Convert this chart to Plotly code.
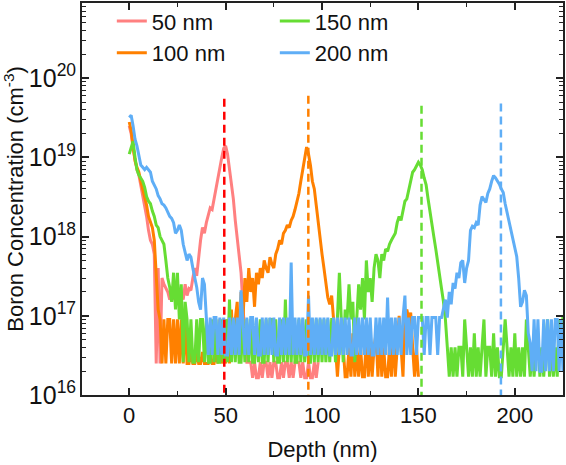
import plotly.graph_objects as go

# Depth sampling grid (nm), 1 nm steps
DEPTH_NM = list(range(0, 226))

# Boron concentration (cm^-3), one value per nm
CONC_50NM = [
    2.5e19, 2.0e19, 1.3e19, 9e18, 7e18, 6e18, 4.5e18, 3.5e18, 2.5e18, 1.8e18,
    1.2e18, 9e17, 8e17, 6e17, 2.5e16, 4e17, 2.5e16, 3e17, 2.5e17, 2.2e17,
    2e17, 1.6e17, 1.8e17, 1.6e17, 2.2e17, 1.7e17, 1.8e17, 2e17, 1.6e17, 2.5e17,
    1.8e17, 2.2e17, 2.1e17, 3e17, 4e17, 3.2e17, 6e17, 9e17, 1.3e18, 1.1e18,
    1.5e18, 1.8e18, 2.3e18, 2.2e18, 3e18, 4e18, 5.5e18, 8e18, 1.0e19, 1.3e19,
    1.4e19, 1.1e19, 7e18, 4.5e18, 3e18, 1.6e18, 9e17, 6e17, 3.5e17, 1.3e17,
    5e16, 2.6e16, 2.6e16, 2.6e16, 1.65e16, 2.6e16, 1.65e16, 1.65e16, 2.6e16, 1.65e16,
    2.6e16, 2.6e16, 1.65e16, 2.6e16, 1.65e16, 2.6e16, 2.6e16, 1.65e16, 1.65e16, 2.6e16,
    1.65e16, 2.6e16, 2.6e16, 1.65e16, 2.6e16, 1.65e16, 2.6e16, 2.6e16, 2.6e16, 1.65e16,
    2.6e16, 1.65e16, 1.65e16, 2.6e16, 1.65e16, 1.65e16, 2.6e16, 1.65e16, 2.6e16,
]

CONC_100NM = [
    2.8e19, 2.2e19, 1.4e19, 9e18, 7.5e18, 6.5e18, 5e18, 4e18, 3e18, 2.5e18,
    1.8e18, 1.5e18, 1.3e18, 9e17, 3e17, 1.2e17, 9e16, 2.5e16, 9e16, 2.5e16,
    9e16, 9e16, 2.5e16, 9e16, 2.5e16, 9e16, 2.5e16, 9e16, 2.5e16, 9e16,
    2.5e16, 2.5e16, 3.5e16, 2.5e16, 2.5e16, 3.5e16, 2.5e16, 2.5e16, 3.5e16, 2.5e16,
    2.5e16, 2.5e16, 3.5e16, 2.5e16, 2.5e16, 3.5e16, 2.5e16, 9e16, 2.5e16, 3.5e16,
    2.5e16, 9e16, 2.5e16, 1.2e17, 3.5e16, 9e16, 1.5e17, 3.5e16, 2e17, 9e16,
    3e17, 1.5e17, 4e17, 2e17, 3e17, 1.3e17, 3.5e17, 2.5e17, 4e17, 3e17,
    5e17, 4e17, 3.5e17, 5.5e17, 4.5e17, 4e17, 6e17, 7e17, 9e17, 8e17,
    1.1e18, 1.2e18, 1.4e18, 1.3e18, 1.6e18, 1.8e18, 2.2e18, 2.8e18, 3.5e18, 5e18,
    7e18, 1.1e19, 1.35e19, 1.1e19, 8e18, 5e18, 4e18, 2.5e18, 1.5e18, 1e18,
    6e17, 4e17, 2.5e17, 1.7e17, 1.4e17, 1.8e17, 9e16, 4e16, 1.7e16, 4e16,
    9e16, 4e16, 1.7e16, 1.7e16, 4e16, 1.7e16, 6e16, 1.7e16, 4e16, 1.7e16,
    4e16, 1.7e16, 1.7e16, 6e16, 1.7e16, 4e16, 1.7e16, 4e16, 6e16, 1.7e16,
    6e16, 1.7e16, 4e16, 1.7e16, 1.7e16, 4e16, 1.7e16, 6e16, 1.7e16, 4e16,
    1e17, 4e16, 1.7e16, 1e17, 1.2e17, 9e16, 1.1e17, 4e16, 1.7e16, 4e16,
    1.7e16,
]

CONC_150NM = [
    1.1e19, 1.3e19, 1.6e19, 1.0e19, 7e18, 6e18, 5.5e18, 5e18, 4.2e18, 3.2e18,
    2.8e18, 2.6e18, 2.1e18, 1.8e18, 1.4e18, 1.3e18, 1e18, 9e17, 8e17, 5e17,
    3e17, 2.3e17, 1.5e17, 3.5e17, 1.2e17, 3.5e17, 9e16, 2.5e17, 2.6e16, 1.5e17,
    9e16, 2.6e16, 9e16, 2.6e16, 2.6e16, 9e16, 2.6e16, 9e16, 9e16, 2.6e16,
    9e16, 2.6e16, 2.6e16, 9e16, 2.6e16, 9e16, 2.6e16, 2.6e16, 9e16, 2.6e16,
    9e16, 2.6e16, 1.6e17, 2.6e16, 9e16, 2.6e16, 9e16, 2.6e16, 2.6e16, 9e16,
    2.6e16, 9e16, 2.6e16, 9e16, 2.6e16, 2.6e16, 9e16, 2.6e16, 9e16, 2.6e16,
    2.6e16, 9e16, 2.6e16, 9e16, 9e16, 2.6e16, 9e16, 2.6e16, 2.6e16, 9e16,
    2.6e16, 1.6e17, 2.6e16, 9e16, 2.6e16, 9e16, 2.6e16, 2.6e16, 9e16, 2.6e16,
    9e16, 2.6e16, 9e16, 2.6e16, 2.6e16, 9e16, 2.6e16, 9e16, 2.6e16, 9e16,
    2.6e16, 9e16, 2.6e16, 9e16, 2.6e16, 9e16, 9e16, 2.6e16, 9e16, 3.5e17,
    9e16, 2.6e16, 1.2e17, 9e16, 2.5e17, 9e16, 1.5e17, 2.6e16, 9e16, 2.5e17,
    1.2e17, 3e17, 9e16, 5e17, 2e17, 3e17, 1.5e17, 4e17, 6e17, 5e17,
    3e17, 6e17, 5e17, 7e17, 6.5e17, 8e17, 9e17, 1e18, 1.1e18, 1.5e18,
    1.8e18, 1.6e18, 2.2e18, 2.8e18, 3e18, 4e18, 5e18, 6.5e18, 7e18, 8e18,
    8.7e18, 8e18, 7e18, 5.5e18, 4.5e18, 3e18, 2e18, 1.4e18, 1e18, 7e17,
    4.5e17, 3e17, 2.2e17, 1.5e17, 9e16, 4e16, 1.7e16, 4e16, 1.7e16, 4e16,
    1.7e16, 4e16, 4e16, 1.7e16, 9e16, 4e16, 1.7e16, 4e16, 1.7e16, 6e16,
    1.7e16, 4e16, 1.7e16, 4e16, 9e16, 1.7e16, 4e16, 4e16, 1.7e16, 6e16,
    1.7e16, 4e16, 1.7e16, 1.7e16, 4e16, 9e16, 4e16, 1.7e16, 4e16, 1.7e16,
    6e16, 1.7e16, 4e16, 1.7e16, 4e16, 1.7e16, 9e16, 4e16, 1.7e16, 4e16,
    1.7e16, 4e16, 6e16, 1.7e16, 4e16, 1.7e16, 4e16, 9e16, 1.7e16, 4e16,
    1.7e16, 4e16, 1.7e16, 9e16, 4e16, 1e17,
]

CONC_200NM = [
    3.2e19, 3.4e19, 2.5e19, 1.7e19, 1.4e19, 1.1e19, 8e18, 7.5e18, 7e18, 7.5e18,
    7e18, 6.5e18, 5e18, 4.5e18, 4e18, 3.3e18, 3e18, 2.6e18, 2.5e18, 2.3e18,
    2e18, 1.8e18, 1.7e18, 1.5e18, 1.1e18, 1.2e18, 1.4e18, 1.2e18, 8e17, 6e17,
    5e17, 6e17, 5.5e17, 4e17, 3e17, 2.3e17, 1.5e17, 1.2e17, 3e17, 2.5e17,
    9.5e16, 3.2e16, 9.5e16, 3.2e16, 9.5e16, 9.5e16, 3.2e16, 9.5e16, 3.2e16, 9.5e16,
    3.2e16, 3.2e16, 9.5e16, 3.2e16, 9.5e16, 3.2e16, 9.5e16, 3.2e16, 2.1e17, 9.5e16,
    3.2e16, 9.5e16, 3.2e16, 9.5e16, 9.5e16, 3.2e16, 9.5e16, 3.2e16, 3.2e16, 9.5e16,
    3.2e16, 9.5e16, 3.2e16, 9.5e16, 3.2e16, 9.5e16, 3.2e16, 3.2e16, 9.5e16, 3.2e16,
    9.5e16, 3.2e16, 9.5e16, 3.2e16, 4.7e17, 3.2e16, 9.5e16, 3.2e16, 9.5e16, 3.2e16,
    9.5e16, 3.2e16, 3.2e16, 1.8e17, 3.2e16, 9.5e16, 3.2e16, 9.5e16, 3.2e16, 9.5e16,
    3.2e16, 9.5e16, 3.2e16, 9.5e16, 3.2e16, 3.2e16, 9.5e16, 3.2e16, 9.5e16, 3.2e16,
    9.5e16, 3.2e16, 9.5e16, 3.2e16, 9.5e16, 3.2e16, 3.2e16, 9.5e16, 3.2e16, 9.5e16,
    3.2e16, 9.5e16, 3.2e16, 9.5e16, 3.2e16, 9.5e16, 3.2e16, 3.2e16, 9.5e16, 3.2e16,
    9.5e16, 3.2e16, 9.5e16, 3.2e16, 1.7e17, 3.2e16, 9.5e16, 3.2e16, 9.5e16, 3.2e16,
    9.5e16, 3.2e16, 9.5e16, 1.8e17, 3.2e16, 9.5e16, 3.2e16, 9.5e16, 9.5e16, 3.2e16,
    9.5e16, 9.5e16, 9.5e16, 3.2e16, 9.5e16, 9.5e16, 3.2e16, 9.5e16, 9.5e16, 9.5e16,
    3.2e16, 9.5e16, 9.5e16, 1.2e17, 1.6e17, 9.5e16, 2e17, 1.4e17, 2.6e17, 2.2e17,
    3.5e17, 3e17, 4.7e17, 5e17, 2.6e17, 4e17, 5e17, 1.2e18, 1.35e18, 1.3e18,
    1.5e18, 1.4e18, 2.5e18, 3.2e18, 2.9e18, 2.7e18, 3.5e18, 4e18, 5e18, 5.9e18,
    5.5e18, 5e18, 4.6e18, 4e18, 3.6e18, 2.6e18, 2e18, 1.5e18, 1.2e18, 9e17,
    7e17, 5.6e17, 3e17, 1.3e17, 1.5e17, 2.1e17, 1.8e17, 6e16, 4.5e16, 2e16,
    9e16, 2e16, 9e16, 2e16, 2e16, 9e16, 2e16, 9e16, 2e16, 9e16,
    2e16, 9e16, 9e16, 2e16, 9e16, 2e16,
]

SERIES_NAMES = ["50 nm", "100 nm", "150 nm", "200 nm"]
SERIES_CONC = [CONC_50NM, CONC_100NM, CONC_150NM, CONC_200NM]
LEGEND_RANK = [1, 3, 2, 4]

# Projected-range markers (dashed lines): depth (nm) and top concentration
MARK_DEPTH = [49.3, 92.9, 151.6, 192.8]
MARK_TOP = [5.5e19, 6.0e19, 4.5e19, 4.8e19]
MARK_BOTTOM = 1e16

LINE_COLORS = ["#FF8080", "#FF8000", "#66DD33", "#5FAEF6"]
MARK_COLORS = ["#FF0000", "#FF8000", "#66DD33", "#5FAEF6"]

for c in SERIES_CONC:
    assert len(c) <= len(DEPTH_NM)

FONT = "Liberation Sans, Arial, sans-serif"
fig = go.Figure()

for name, conc, color, rank in zip(SERIES_NAMES, SERIES_CONC, LINE_COLORS, LEGEND_RANK):
    fig.add_trace(go.Scatter(
        x=DEPTH_NM[:len(conc)], y=conc, mode="lines", name=name,
        line=dict(color=color, width=3), legendrank=rank,
    ))

for d, top, color in zip(MARK_DEPTH, MARK_TOP, MARK_COLORS):
    fig.add_trace(go.Scatter(
        x=[d, d], y=[top, MARK_BOTTOM], mode="lines", showlegend=False,
        line=dict(color=color, width=2.5, dash="8px,5px"), hoverinfo="skip",
    ))

axis_common = dict(
    showline=True, linecolor="#222", linewidth=1.8, mirror="allticks",
    ticks="inside", ticklen=7, tickwidth=1.6, tickcolor="#222",
    showgrid=False, zeroline=False, automargin=False,
)

fig.update_xaxes(
    range=[-24.5, 225], tickmode="linear", tick0=0, dtick=50,
    minor=dict(ticks="inside", ticklen=4, tickwidth=1.4, tickcolor="#222", dtick=25, tick0=0),
    tickfont=dict(family=FONT, size=22, color="#111"),
    title=dict(text="Depth (nm)", font=dict(family=FONT, size=22, color="#111"), standoff=14),
    **axis_common,
)
fig.update_yaxes(
    type="log", range=[16, 20.95], dtick=1, exponentformat="power", showexponent="all",
    minor=dict(ticks="inside", ticklen=4, tickwidth=1.4, tickcolor="#222", dtick="D1"),
    tickfont=dict(family=FONT, size=20, color="#111"),
    title=dict(text="Boron Concentration (cm<sup>-3</sup>)", font=dict(family=FONT, size=22, color="#111"), standoff=6),
    **axis_common,
)

fig.update_layout(
    width=566, height=465, autosize=False,
    margin=dict(l=82, r=3, t=3, b=70, autoexpand=False),
    paper_bgcolor="white", plot_bgcolor="white",
    font=dict(family=FONT, color="#111"),
    legend=dict(
        orientation="h", x=0.062, y=1.007, xanchor="left", yanchor="top",
        entrywidth=118, entrywidthmode="pixels",
        font=dict(family=FONT, size=22, color="#111"),
        bgcolor="rgba(0,0,0,0)", borderwidth=0,
    ),
    showlegend=True,
)

fig.write_html(
    "out.html",
    config={"responsive": False, "displayModeBar": False},
    post_script="document.body.style.margin='0';document.body.style.overflow='hidden';",
)
